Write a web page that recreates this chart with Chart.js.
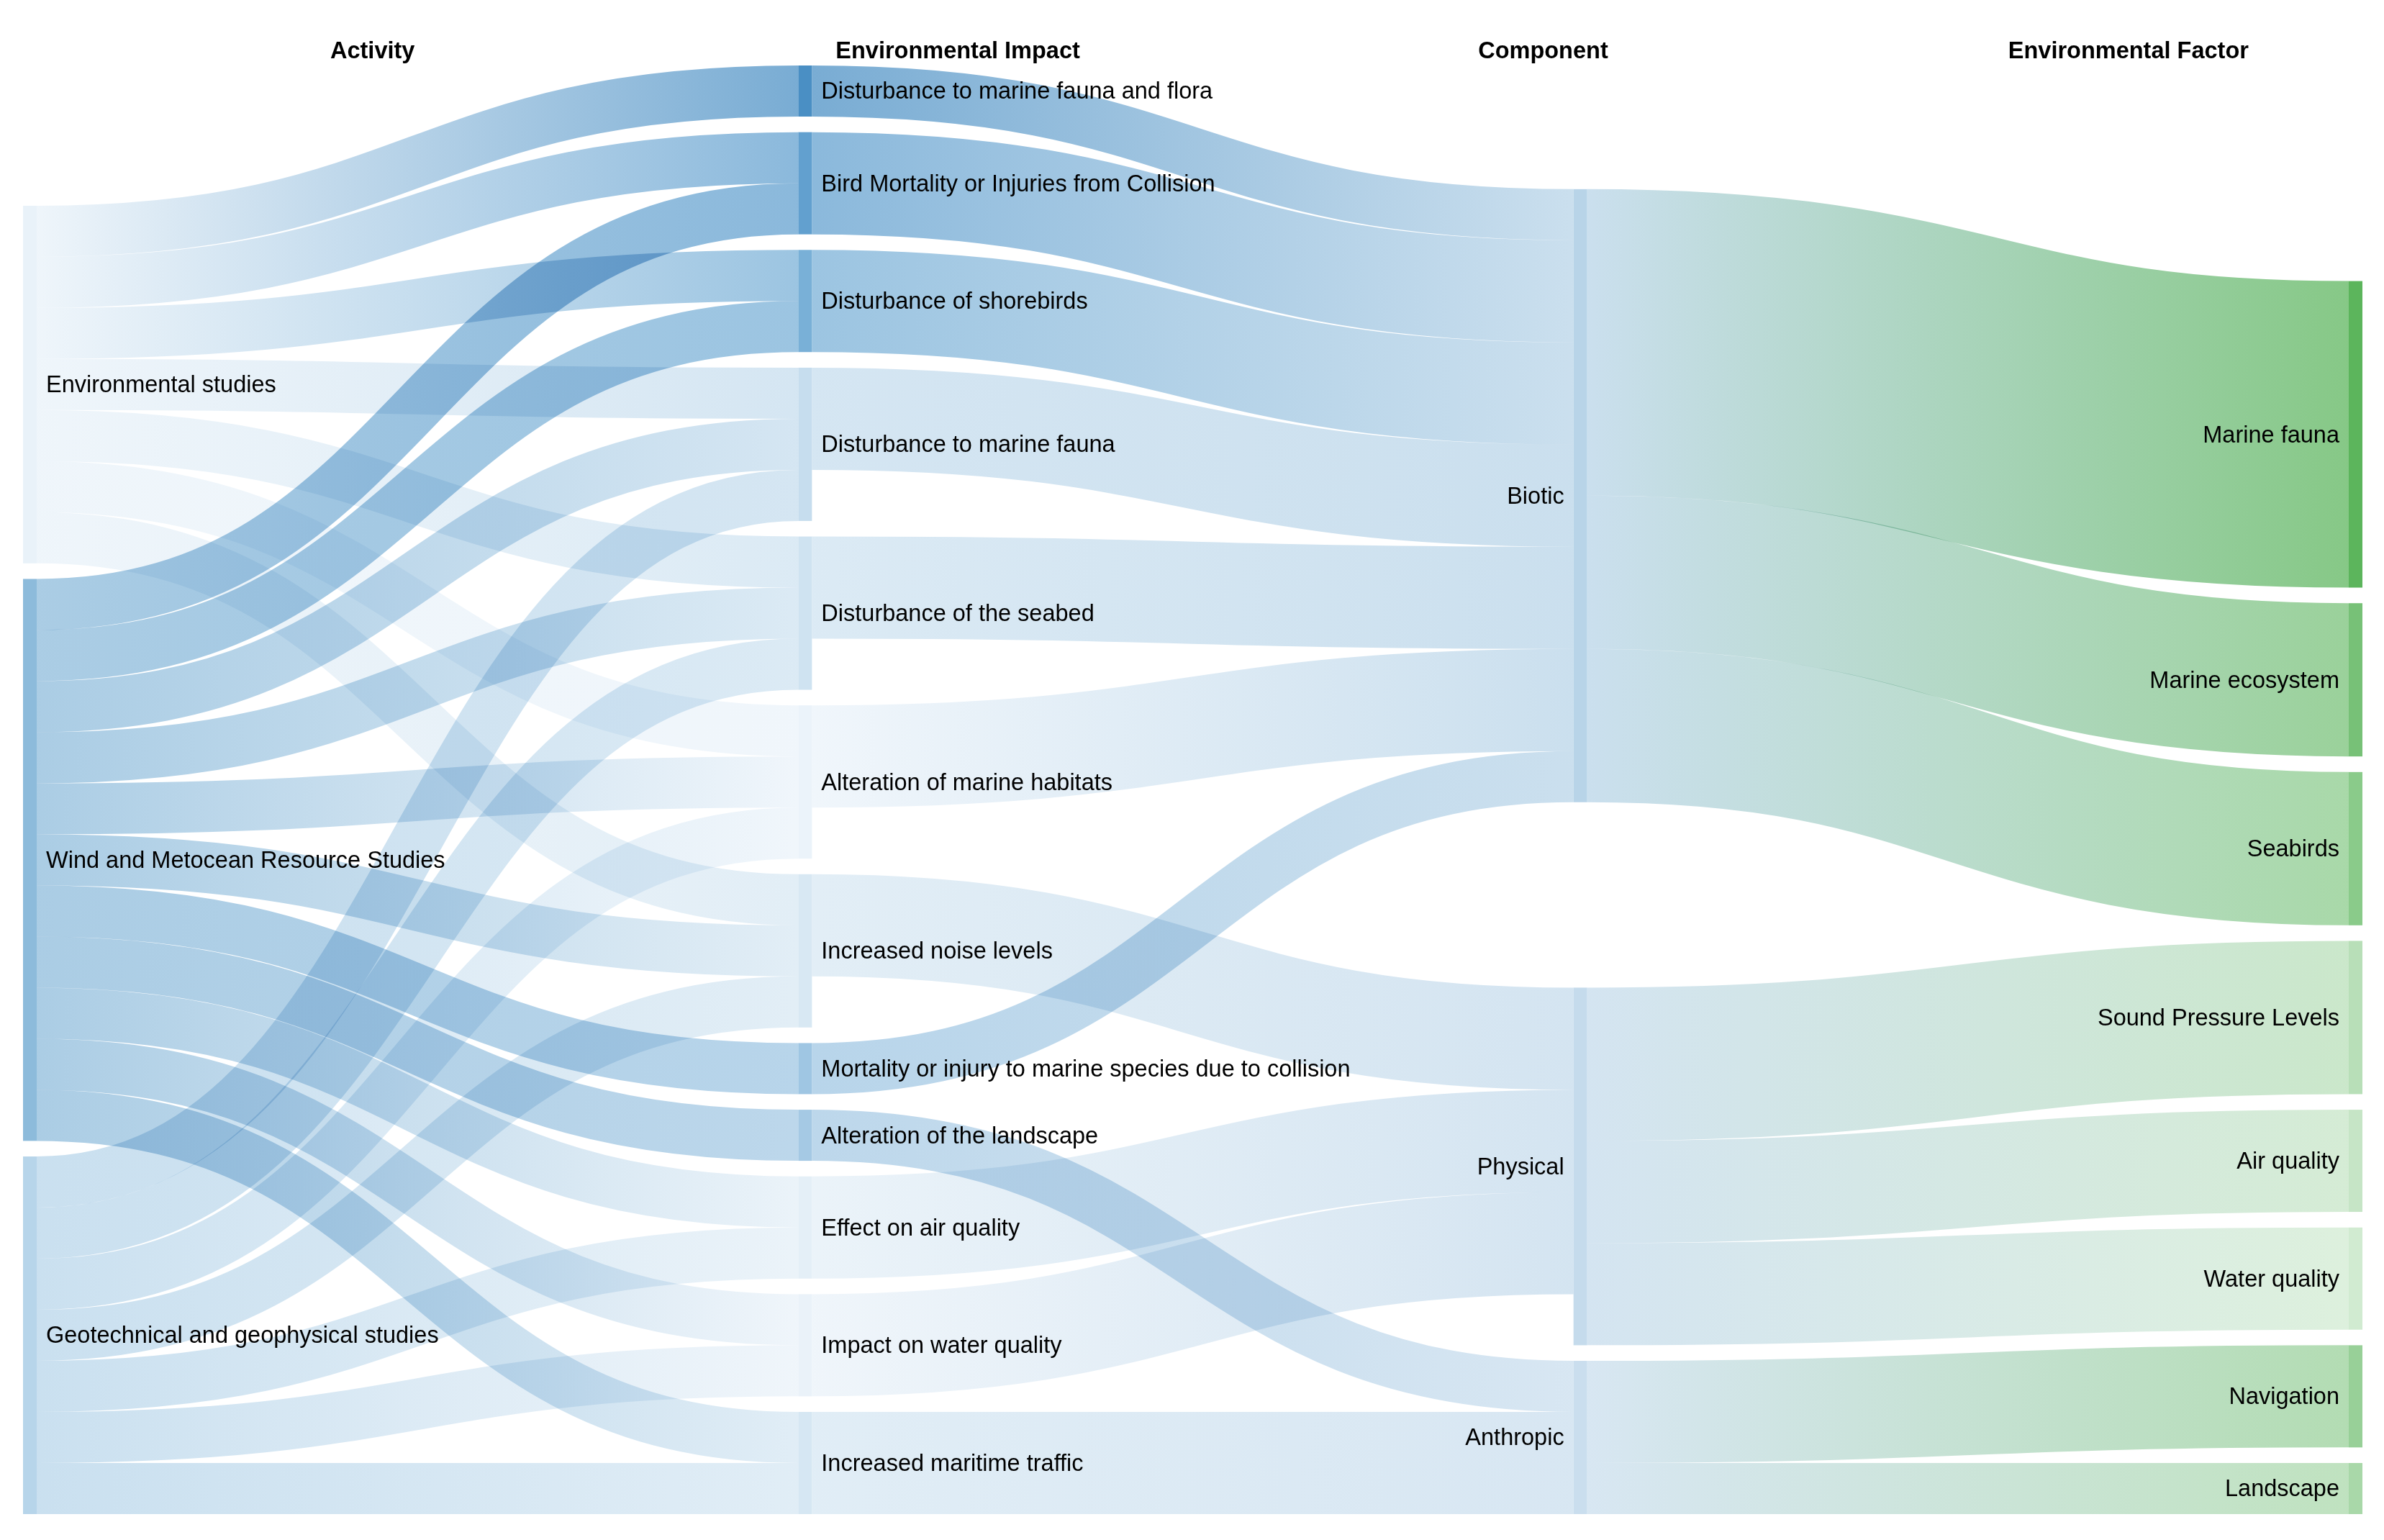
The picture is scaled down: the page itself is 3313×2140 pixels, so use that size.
<!DOCTYPE html>
<html>
<head>
<meta charset="utf-8">
<title>Activity - Impact - Component - Factor</title>
<script src="https://cdn.jsdelivr.net/npm/chart.js@4.4.0/dist/chart.umd.min.js"></script>
<style>
    html, body { margin: 0; padding: 0; background: #fff; }
    #wrap { width: 3313px; height: 2140px; }
</style>
</head>
<body>
<div id="wrap"><canvas id="sankey"></canvas></div>
<script>
// Column headers
const columnTitles = ['Activity', 'Environmental Impact', 'Component', 'Environmental Factor'];

// Nodes of each column, top to bottom
const activities = [
    'Environmental studies',
    'Wind and Metocean Resource Studies',
    'Geotechnical and geophysical studies'
];
const impacts = [
    'Disturbance to marine fauna and flora',
    'Bird Mortality or Injuries from Collision',
    'Disturbance of shorebirds',
    'Disturbance to marine fauna',
    'Disturbance of the seabed',
    'Alteration of marine habitats',
    'Increased noise levels',
    'Mortality or injury to marine species due to collision',
    'Alteration of the landscape',
    'Effect on air quality',
    'Impact on water quality',
    'Increased maritime traffic'
];
const components = ['Biotic', 'Physical', 'Anthropic'];
const factors = [
    'Marine fauna', 'Marine ecosystem', 'Seabirds', 'Sound Pressure Levels',
    'Air quality', 'Water quality', 'Navigation', 'Landscape'
];

// Flows [source, target, value]
const activityToImpact = [
    ['Environmental studies', 'Disturbance to marine fauna and flora', 1],
    ['Environmental studies', 'Bird Mortality or Injuries from Collision', 1],
    ['Environmental studies', 'Disturbance of shorebirds', 1],
    ['Environmental studies', 'Disturbance to marine fauna', 1],
    ['Environmental studies', 'Disturbance of the seabed', 1],
    ['Environmental studies', 'Alteration of marine habitats', 1],
    ['Environmental studies', 'Increased noise levels', 1],
    ['Wind and Metocean Resource Studies', 'Bird Mortality or Injuries from Collision', 1],
    ['Wind and Metocean Resource Studies', 'Disturbance of shorebirds', 1],
    ['Wind and Metocean Resource Studies', 'Disturbance to marine fauna', 1],
    ['Wind and Metocean Resource Studies', 'Disturbance of the seabed', 1],
    ['Wind and Metocean Resource Studies', 'Alteration of marine habitats', 1],
    ['Wind and Metocean Resource Studies', 'Increased noise levels', 1],
    ['Wind and Metocean Resource Studies', 'Mortality or injury to marine species due to collision', 1],
    ['Wind and Metocean Resource Studies', 'Alteration of the landscape', 1],
    ['Wind and Metocean Resource Studies', 'Effect on air quality', 1],
    ['Wind and Metocean Resource Studies', 'Impact on water quality', 1],
    ['Wind and Metocean Resource Studies', 'Increased maritime traffic', 1],
    ['Geotechnical and geophysical studies', 'Disturbance to marine fauna', 1],
    ['Geotechnical and geophysical studies', 'Disturbance of the seabed', 1],
    ['Geotechnical and geophysical studies', 'Alteration of marine habitats', 1],
    ['Geotechnical and geophysical studies', 'Increased noise levels', 1],
    ['Geotechnical and geophysical studies', 'Effect on air quality', 1],
    ['Geotechnical and geophysical studies', 'Impact on water quality', 1],
    ['Geotechnical and geophysical studies', 'Increased maritime traffic', 1]
];
const impactToComponent = [
    ['Disturbance to marine fauna and flora', 'Biotic', 1],
    ['Bird Mortality or Injuries from Collision', 'Biotic', 2],
    ['Disturbance of shorebirds', 'Biotic', 2],
    ['Disturbance to marine fauna', 'Biotic', 2],
    ['Disturbance of the seabed', 'Biotic', 2],
    ['Alteration of marine habitats', 'Biotic', 2],
    ['Increased noise levels', 'Physical', 2],
    ['Mortality or injury to marine species due to collision', 'Biotic', 1],
    ['Alteration of the landscape', 'Anthropic', 1],
    ['Effect on air quality', 'Physical', 2],
    ['Impact on water quality', 'Physical', 2],
    ['Increased maritime traffic', 'Anthropic', 2]
];
const componentToFactor = [
    ['Biotic', 'Marine fauna', 6],
    ['Biotic', 'Marine ecosystem', 3],
    ['Biotic', 'Seabirds', 3],
    ['Physical', 'Sound Pressure Levels', 3],
    ['Physical', 'Air quality', 2],
    ['Physical', 'Water quality', 2],
    ['Anthropic', 'Navigation', 2],
    ['Anthropic', 'Landscape', 1]
];

// Node colours
const nodeColors = {
    'Environmental studies': '#e9f2f9',
    'Wind and Metocean Resource Studies': '#8dbbdb',
    'Geotechnical and geophysical studies': '#b7d5ea',
    'Disturbance to marine fauna and flora': '#4a8fc4',
    'Bird Mortality or Injuries from Collision': '#62a0cf',
    'Disturbance of shorebirds': '#79b0d7',
    'Disturbance to marine fauna': '#c6ddee',
    'Disturbance of the seabed': '#cfe3f1',
    'Alteration of marine habitats': '#ebf3fa',
    'Increased noise levels': '#d8e8f3',
    'Mortality or injury to marine species due to collision': '#9fc6e3',
    'Alteration of the landscape': '#a5c9e4',
    'Effect on air quality': '#e4eff7',
    'Impact on water quality': '#eaf2f9',
    'Increased maritime traffic': '#d6e7f3',
    'Biotic': '#b8d4e8',
    'Physical': '#c5dbec',
    'Anthropic': '#cadeee',
    'Marine fauna': '#5cb55c',
    'Marine ecosystem': '#77c177',
    'Seabirds': '#8acb8a',
    'Sound Pressure Levels': '#b8dfb8',
    'Air quality': '#c6e5c6',
    'Water quality': '#d1ebd1',
    'Navigation': '#98d098',
    'Landscape': '#a9d8a9'
};

const NODE_PADDING = 0.305;   // gap between nodes, in flow units
const ITERATIONS = 12;

/**
 * Sankey layout: centre-weighted relaxation, collisions resolved column by column,
 * node order kept. Everything in flow units.
 */
function layoutSankey(columnNames, flows, py, iterations) {
    const nodes = [];
    const byName = new Map();
    columnNames.forEach((names, layer) => {
        names.forEach(name => {
            const node = { name, layer, sourceLinks: [], targetLinks: [] };
            nodes.push(node);
            byName.set(name, node);
        });
    });
    const links = flows.map(([s, t, value]) => {
        const link = { source: byName.get(s), target: byName.get(t), value };
        link.source.sourceLinks.push(link);
        link.target.targetLinks.push(link);
        return link;
    });
    const total = arr => arr.reduce((a, l) => a + l.value, 0);
    nodes.forEach(n => { n.value = Math.max(total(n.sourceLinks), total(n.targetLinks)); });

    const columns = columnNames.map(names => names.map(n => byName.get(n)));
    const colSum = c => c.reduce((a, n) => a + n.value, 0);
    const y0 = 0;
    const y1 = Math.max(...columns.map(c => colSum(c) + (c.length - 1) * py));
    const center = n => (n.y0 + n.y1) / 2;

    const ky = Math.min(...columns.map(c => (y1 - y0 - (c.length - 1) * py) / colSum(c)));
    columns.forEach(col => col.forEach((node, i) => {
        node.y0 = i;
        node.y1 = i + node.value * ky;
    }));
    links.forEach(l => { l.width = l.value * ky; });

    function resolve(col) {
        let y = y0, node;
        for (node of col) {
            const dy = y - node.y0;
            if (dy > 0) { node.y0 += dy; node.y1 += dy; }
            y = node.y1 + py;
        }
        let dy = y - py - y1;
        if (dy > 0) {
            node.y0 -= dy; node.y1 -= dy;
            y = node.y0;
            for (let i = col.length - 2; i >= 0; --i) {
                const n = col[i];
                dy = n.y1 + py - y;
                if (dy > 0) { n.y0 -= dy; n.y1 -= dy; }
                y = n.y0;
            }
        }
    }
    function toTargets(col, alpha) {
        for (const node of col) {
            if (!node.sourceLinks.length) continue;
            const w = node.sourceLinks.reduce((a, l) => a + center(l.target) * l.value, 0);
            const dy = (w / total(node.sourceLinks) - center(node)) * alpha;
            node.y0 += dy; node.y1 += dy;
        }
        resolve(col);
    }
    function toSources(col, alpha) {
        for (const node of col) {
            if (!node.targetLinks.length) continue;
            const w = node.targetLinks.reduce((a, l) => a + center(l.source) * l.value, 0);
            const dy = (w / total(node.targetLinks) - center(node)) * alpha;
            node.y0 += dy; node.y1 += dy;
        }
        resolve(col);
    }

    columns.forEach(resolve);
    for (let alpha = 1, n = iterations; n > 0; --n) {
        alpha *= 0.99;
        for (let c = columns.length - 2; c >= 0; --c) toTargets(columns[c], alpha);
        for (let c = 1; c < columns.length; ++c) toSources(columns[c], alpha);
    }

    // link breadths
    for (const node of nodes) {
        node.sourceLinks.sort((a, b) => a.target.y0 - b.target.y0);
        node.targetLinks.sort((a, b) => a.source.y0 - b.source.y0);
    }
    for (const node of nodes) {
        let a = node.y0, b = node.y0;
        for (const l of node.sourceLinks) { l.y0 = a + l.width / 2; a += l.width; }
        for (const l of node.targetLinks) { l.y1 = b + l.width / 2; b += l.width; }
    }
    return { nodes, links, height: y1, layers: columns.length };
}

const graph = layoutSankey(
    [activities, impacts, components, factors],
    [...activityToImpact, ...impactToComponent, ...componentToFactor],
    NODE_PADDING,
    ITERATIONS
);

// Draws flows, nodes and labels through the chart scales
const sankeyPlugin = {
    id: 'sankeyFlows',
    beforeDraw(chart) {
        const { ctx, width, height } = chart;
        ctx.save();
        ctx.fillStyle = '#ffffff';
        ctx.fillRect(0, 0, width, height);
        ctx.restore();
    },
    afterDatasetsDraw(chart, args, opts) {
        const { ctx, scales: { x, y }, chartArea } = chart;
        const half = opts.nodeWidth / 2;
        const px = v => x.getPixelForValue(v);
        const py = v => y.getPixelForValue(v);
        const thick = v => Math.abs(py(v) - py(0));

        // links
        ctx.save();
        ctx.globalCompositeOperation = 'multiply';
        ctx.globalAlpha = opts.linkOpacity;
        ctx.lineCap = 'butt';
        for (const link of graph.links) {
            const xs = px(link.source.layer) + half;
            const xt = px(link.target.layer) - half;
            const ys = py(link.y0);
            const yt = py(link.y1);
            const xm = (xs + xt) / 2;
            const grad = ctx.createLinearGradient(xs, 0, xt, 0);
            grad.addColorStop(0, nodeColors[link.source.name]);
            grad.addColorStop(1, nodeColors[link.target.name]);
            ctx.strokeStyle = grad;
            ctx.lineWidth = Math.max(1, thick(link.width));
            ctx.beginPath();
            ctx.moveTo(xs, ys);
            ctx.bezierCurveTo(xm, ys, xm, yt, xt, yt);
            ctx.stroke();
        }
        ctx.restore();

        // nodes
        ctx.save();
        for (const node of graph.nodes) {
            const top = py(node.y0);
            ctx.fillStyle = nodeColors[node.name];
            ctx.fillRect(px(node.layer) - half, top, opts.nodeWidth, py(node.y1) - top);
        }

        // labels
        ctx.fillStyle = '#000';
        ctx.font = opts.labelFont;
        ctx.textBaseline = 'middle';
        for (const node of graph.nodes) {
            const left = node.layer < graph.layers / 2;
            ctx.textAlign = left ? 'left' : 'right';
            const lx = left ? px(node.layer) + half + opts.labelGap : px(node.layer) - half - opts.labelGap;
            ctx.fillText(node.name, lx, py((node.y0 + node.y1) / 2) + opts.labelDrop);
        }

        // column headers
        ctx.font = opts.titleFont;
        ctx.textAlign = 'center';
        columnTitles.forEach((t, i) => {
            ctx.fillText(t, px(opts.titlePositions[i]), chartArea.top - opts.titleLift);
        });
        ctx.restore();
    }
};

new Chart(document.getElementById('sankey'), {
    type: 'scatter',
    data: { datasets: [] },
    options: {
        responsive: true,
        maintainAspectRatio: false,
        animation: false,
        events: [],
        layout: {
            padding: { top: 91, bottom: 36, left: 41.5, right: 39.5 }
        },
        scales: {
            x: { type: 'linear', min: 0, max: graph.layers - 1, display: false },
            y: { type: 'linear', min: 0, max: graph.height, reverse: true, display: false }
        },
        plugins: {
            legend: { display: false },
            tooltip: { enabled: false },
            sankeyFlows: {
                nodeWidth: 19,
                linkOpacity: 0.74,
                labelGap: 13,
                labelDrop: 2,
                labelFont: '32.5px "Liberation Sans", Arial, sans-serif',
                titleFont: 'bold 32.5px "Liberation Sans", Arial, sans-serif',
                titlePositions: [0.442, 1.197, 1.952, 2.707],
                titleLift: 19
            }
        }
    },
    plugins: [sankeyPlugin]
});
</script>
</body>
</html>
